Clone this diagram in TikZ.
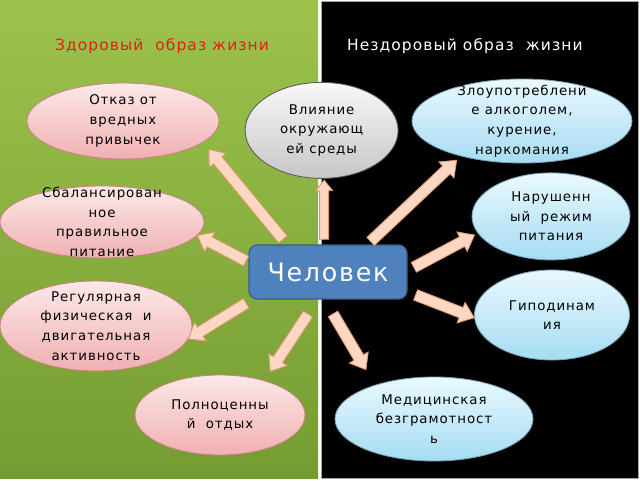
\documentclass[tikz,border=0pt]{standalone}
\usepackage{fontspec}
\setmainfont{DejaVu Sans}
\newfontfamily\spacedfont[LetterSpace=7]{DejaVu Sans}
\usepackage{xcolor}
\usetikzlibrary{shapes.geometric,calc,positioning}
\definecolor{lifegreen}{RGB}{157,194,76}
\definecolor{lifegreendark}{RGB}{116,156,50}
\definecolor{titlered}{RGB}{222,35,20}
\definecolor{pinktop}{RGB}{253,232,232}
\definecolor{pinkbot}{RGB}{240,176,178}
\definecolor{pinkline}{RGB}{205,130,130}
\definecolor{bluetop}{RGB}{234,249,255}
\definecolor{bluebot}{RGB}{165,220,242}
\definecolor{blueline}{RGB}{120,160,180}
\definecolor{greytop}{RGB}{248,248,248}
\definecolor{greybot}{RGB}{198,198,198}
\definecolor{greyline}{RGB}{90,90,90}
\definecolor{humanblue}{RGB}{79,129,189}
\definecolor{humanline}{RGB}{56,93,138}
\definecolor{arrowfill}{RGB}{252,216,196}
\definecolor{arrowline}{RGB}{226,150,108}

\begin{document}
\begin{tikzpicture}[
    ell/.style={ellipse, inner sep=0pt, line width=0.6pt},
    pinkell/.style={ell, draw=pinkline, top color=pinktop, bottom color=pinkbot},
    blueell/.style={ell, draw=blueline, top color=bluetop, bottom color=bluebot},
    greyell/.style={ell, draw=greyline, top color=greytop, bottom color=greybot},
    elltext/.style={font=\spacedfont\fontsize{9.5}{14}\selectfont, align=center, inner sep=0pt},
    human/.style={rectangle, rounded corners=6pt, draw=humanline, line width=0.9pt, fill=humanblue, text=white,
      font=\spacedfont\fontsize{18}{20}\selectfont, minimum width=3.95cm, minimum height=1.35cm},
    header/.style={font=\spacedfont\fontsize{11}{13}\selectfont},
    gapstart/.store in=\blksgap, gapend/.store in=\blkegap,
    shaftw/.store in=\blkshaft, headw/.store in=\blkhead, headl/.store in=\blkheadlen,
    gapstart=3pt, gapend=3pt, shaftw=3.9pt, headw=7.8pt, headl=10pt,
    blockarrow/.style={draw=arrowline, fill=arrowfill, line width=0.6pt, line join=miter,
      to path={
        let \p1=($(\tikztostart)!\blksgap!(\tikztotarget)$),
            \p2=($(\tikztotarget)!\blkegap!(\tikztostart)$),
            \p3=($(\p2)!\blkheadlen!(\p1)$) in
        ($(\p1)!\blkshaft!90:(\p2)$) -- ($(\p3)!\blkshaft!-90:(\p1)$)
        -- ($(\p3)!\blkhead!-90:(\p1)$) -- (\p2)
        -- ($(\p3)!\blkhead!90:(\p1)$) -- ($(\p3)!\blkshaft!90:(\p1)$)
        -- ($(\p1)!\blkshaft!-90:(\p2)$) -- cycle}}
  ]
  % two halves
  \fill[white] (0,0) rectangle (16,12);
  \useasboundingbox (0,0) rectangle (16,12);
  \shade[top color=lifegreen, bottom color=lifegreendark] (0,0.05) rectangle (7.95,12);
  \filldraw[fill=black, draw=gray!70, line width=0.5pt] (8.03,0.05) rectangle (15.97,11.97);

  \node[header, text=titlered] (healthy) at (4.05,10.85) {Здоровый~ образ жизни};
  \node[header, text=white] (unhealthy) at (11.62,10.85) {Нездоровый образ~ жизни};

  % centre
  \node[human] (chel) at (8.2,5.2) {Человек};

  % healthy side
  \node[pinkell, minimum width=4.8cm, minimum height=1.9cm,
    label={[elltext]center:{Отказ от\\вредных\\привычек}}] (otkaz) at (3.075,8.975) {};
  \node[pinkell, minimum width=5.1cm, minimum height=1.8cm,
    label={[elltext]center:{Сбалансирован\\ное\\правильное\\питание}}] (sbal) at (2.55,6.45) {};
  \node[pinkell, minimum width=4.8cm, minimum height=2.25cm,
    label={[elltext]center:{Регулярная\\физическая~ и\\двигательная\\активность}}] (regul) at (2.4,3.85) {};
  \node[pinkell, minimum width=4.25cm, minimum height=2cm,
    label={[elltext]center:{Полноценны\\й~ отдых}}] (polno) at (5.5,1.625) {};

  % neutral
  \node[greyell, minimum width=3.825cm, minimum height=2.4cm,
    label={[elltext]center:{Влияние\\окружающ\\ей среды}}] (vliy) at (8.04,8.74) {};

  % unhealthy side
  \node[blueell, minimum width=5.5cm, minimum height=2.1cm,
    label={[elltext]center:{Злоупотреблени\\е алкоголем,\\курение,\\наркомания}}] (zloup) at (13.05,8.975) {};
  \node[blueell, minimum width=3.95cm, minimum height=2.175cm,
    label={[elltext]center:{Нарушенн\\ый~ режим\\питания}}] (narush) at (13.775,6.59) {};
  \node[blueell, minimum width=3.875cm, minimum height=2.25cm,
    label={[elltext]center:{Гиподинам\\ия}}] (gipod) at (13.8,4.125) {};
  \node[blueell, minimum width=4.95cm, minimum height=2.1cm,
    label={[elltext]center:{Медицинская\\безграмотност\\ь}}] (medic) at (10.85,1.525) {};

  % arrows out of the centre
  \draw[blockarrow, gapstart=4.6pt, gapend=6.5pt] (chel.146) to (otkaz.-15);
  \draw[blockarrow, gapstart=3.6pt, gapend=1pt, shaftw=3.2pt, headw=6.2pt, headl=7.5pt] (chel.98) to (vliy.-87);
  \draw[blockarrow, gapstart=3.1pt, gapend=4.1pt] (chel.35) to (zloup.-150);
  \draw[blockarrow, gapstart=1.8pt, gapend=0pt] (chel.173) to (sbal.-8);
  \draw[blockarrow, gapstart=5pt, gapend=2.6pt] (chel.1.5) to (narush.-167);
  \draw[blockarrow, gapstart=6.1pt, gapend=0pt] (chel.-14) to (gipod.-178);
  \draw[blockarrow, gapstart=4.9pt, gapend=0pt] (chel.-160) to (regul.-8);
  \draw[blockarrow, gapstart=12.2pt, gapend=7.7pt] (chel.-111) to (polno.38);
  \draw[blockarrow, gapstart=11.8pt, gapend=12.6pt] (chel.-97) to (medic.150);
\end{tikzpicture}
\end{document}
